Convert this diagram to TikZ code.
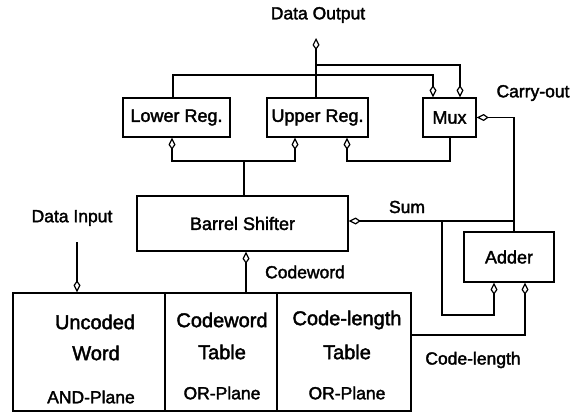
\documentclass[tikz,border=0pt]{standalone}
\usepackage{fontspec}
\setmainfont{Liberation Sans}[BoldFont={Liberation Sans},BoldFeatures={FakeBold=2}]
\usetikzlibrary{arrows.meta}
\begin{document}
\begin{tikzpicture}[x=1pt,y=-1pt, line width=1.4pt,
  box/.style={draw, inner sep=0pt, font=\fontsize{18}{20}\selectfont\bfseries},
  lbl/.style={inner sep=0pt, font=\fontsize{17.5}{20}\selectfont\bfseries},
  big/.style={inner sep=0pt, font=\fontsize{20}{24}\selectfont\bfseries},
  tip/.style={-{Kite[open,length=12pt,width=7pt,inset=5pt,line width=1.2pt]}},
]
\useasboundingbox (0,0) rectangle (577,413);
% boxes
\node[box, minimum width=107pt, minimum height=39pt] (lr) at (176.5,117.5) {Lower Reg.};
\node[box, minimum width=101pt, minimum height=39pt] (ur) at (317.5,117.5) {Upper Reg.};
\node[box, minimum width=53pt, minimum height=39pt] (mux) at (449.5,117.5) {Mux};
\node[box, minimum width=211pt, minimum height=55pt] (bs) at (242.5,223.5) {Barrel Shifter};
\node[box, minimum width=90pt, minimum height=50pt] (add) at (509,257) {Adder};
\node[box, minimum width=152pt, minimum height=118pt] (uw) at (89,352) {};
\node[box, minimum width=112pt, minimum height=118pt] (cwt) at (221,352) {};
\node[box, minimum width=134pt, minimum height=118pt] (clt) at (344,352) {};
% texts in the big boxes
\node[big] (uw1) at (95,322) {Uncoded};
\node[big] (uw2) at (96,353) {Word};
\node[lbl] (uw3) at (91,397) {AND-Plane};
\node[big] (cw1) at (222,320) {Codeword};
\node[big] (cw2) at (222,352) {Table};
\node[lbl] (cw3) at (222,393) {OR-Plane};
\node[big] (cl1) at (347,320) {Code-length};
\node[big] (cl2) at (347,352) {Table};
\node[lbl] (cl3) at (347,393) {OR-Plane};
% labels
\node[lbl] (tdout) at (318,15) {Data Output};
\node[lbl] (tdin) at (72,218) {Data Input};
\node[lbl] (tcw) at (305,272) {Codeword};
\node[lbl] (tsum) at (407,207) {Sum};
\node[lbl] (tco) at (533,93) {Carry-out};
\node[lbl] (tcl) at (473,360) {Code-length};
\coordinate (dout) at (316,38);
\coordinate (din) at (77,242);
% connectors
\draw[tip] (ur.north -| dout) -- (dout);
\draw[tip] (316,65) -- (460,65) -- (mux.north -| 460,0);
\draw[tip] (lr.north -| 173,0) -- (173,75) -- (433,75) -- (mux.north -| 433,0);
\draw[tip] (bs.north -| 244,0) -- (244,161) -| (lr.south -| 172,0);
\draw[tip] (244,161) -| (ur.south -| 295,0);
\draw[tip] (mux.south -| 450,0) -- (450,161) -| (ur.south -| 347,0);
\draw[tip] (add.north -| 514,0) |- (mux.east);
\draw[tip] (514,221) -- (bs.east |- 0,221);
\draw[tip] (442,221) -- (442,315) -| (add.south -| 494,0);
\draw[tip] (clt.east |- 0,335) -| (add.south -| 525,0);
\draw[tip] (cwt.north -| 246,0) -- (bs.south -| 246,0);
\draw[tip] (din) -- (uw.north -| din);
\end{tikzpicture}
\end{document}
